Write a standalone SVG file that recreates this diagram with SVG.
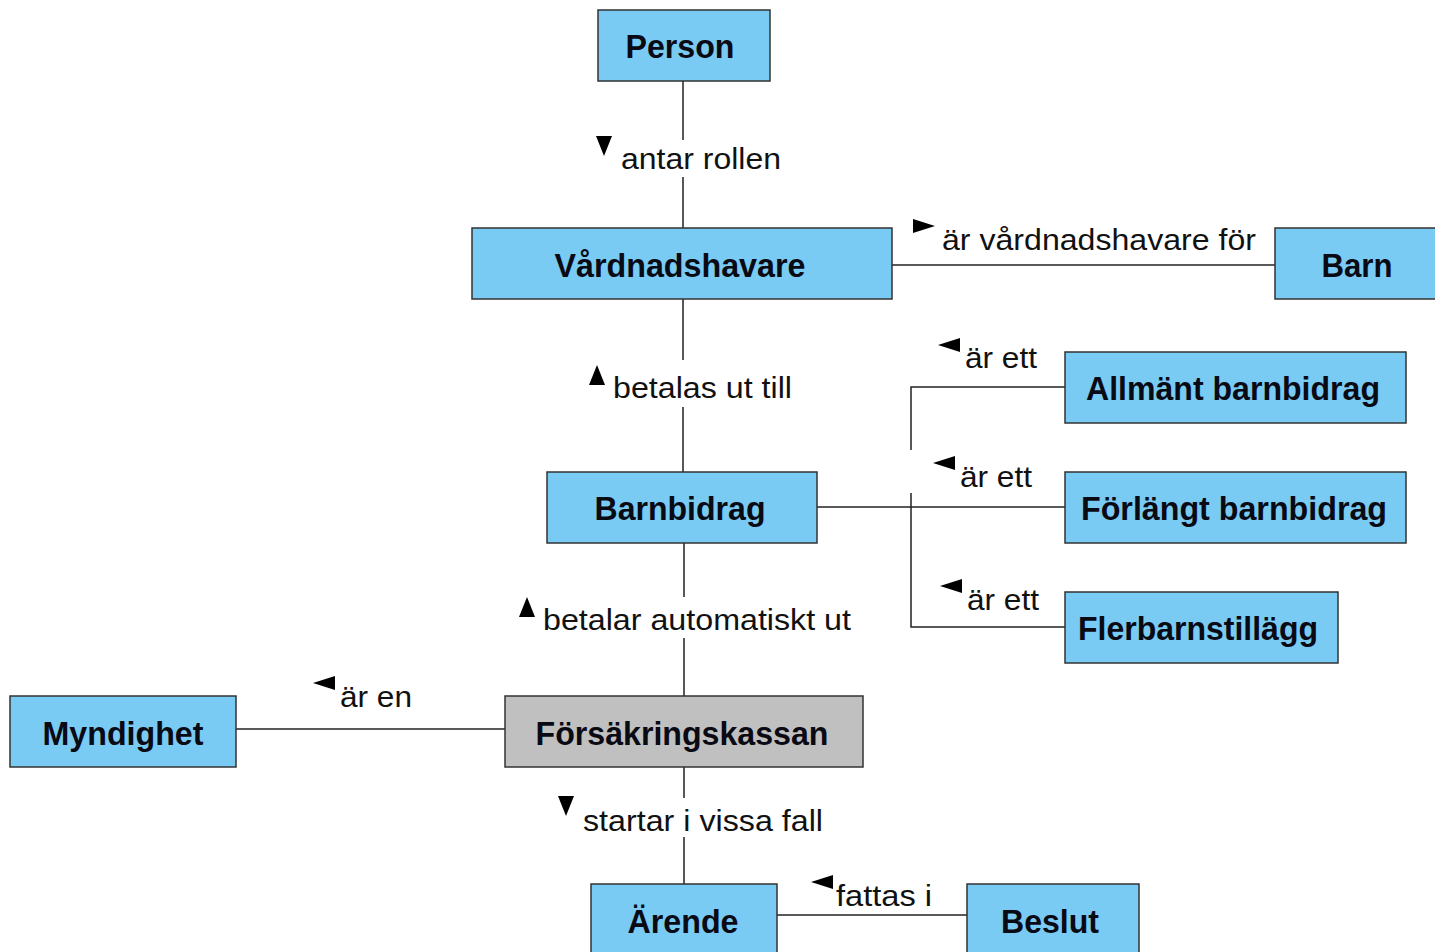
<svg xmlns="http://www.w3.org/2000/svg" xmlns:xlink="http://www.w3.org/1999/xlink" width="1435" height="952" viewBox="0 0 1435 952">
<style>
.box{fill:#79cbf3;stroke:#333;stroke-width:1.5}
.gray{fill:#c0c0c0;stroke:#333;stroke-width:1.5}
.nt{font-family:"Liberation Sans",Arial,sans-serif;font-weight:bold;font-size:33px;fill:#0a0a14;text-anchor:middle}
.lt{font-family:"Liberation Sans",Arial,sans-serif;font-size:29px;fill:#111}
.ln{stroke:#222;stroke-width:1.5;fill:none}
.ar{fill:#000}
</style>
<defs>
<polygon id="aDown" points="-8,-10 8,-10 0,10"/>
<polygon id="aUp" points="-8,10 8,10 0,-10"/>
<polygon id="aLeft" points="11,-7 11,7 -11,0"/>
<polygon id="aRight" points="-11,-7 -11,7 11,0"/>
</defs>
<rect width="1435" height="952" fill="#fff"/>
<g id="connectors">
<path class="ln" d="M683,81V140M683,177V228"/>
<path class="ln" d="M892,265H1275"/>
<path class="ln" d="M683,299V360M683,407V472"/>
<path class="ln" d="M817,507H1065"/>
<path class="ln" d="M1065,387H911V450M911,493V627H1065"/>
<path class="ln" d="M684,543V597M684,638V696"/>
<path class="ln" d="M236,729H505"/>
<path class="ln" d="M684,767V798M684,837V884"/>
<path class="ln" d="M777,915H967"/>
</g>
<g id="labels">
<use href="#aDown" class="ar" x="604" y="146"/>
<text class="lt" x="621" y="169" textLength="160" lengthAdjust="spacingAndGlyphs">antar rollen</text>
<use href="#aRight" class="ar" x="924" y="226"/>
<text class="lt" x="942" y="250" textLength="314" lengthAdjust="spacingAndGlyphs">är vårdnadshavare för</text>
<use href="#aUp" class="ar" x="597" y="375"/>
<text class="lt" x="613" y="398" textLength="179" lengthAdjust="spacingAndGlyphs">betalas ut till</text>
<use href="#aLeft" class="ar" x="949" y="345"/>
<text class="lt" x="965" y="368" textLength="72" lengthAdjust="spacingAndGlyphs">är ett</text>
<use href="#aLeft" class="ar" x="944" y="463"/>
<text class="lt" x="960" y="487" textLength="72" lengthAdjust="spacingAndGlyphs">är ett</text>
<use href="#aLeft" class="ar" x="951" y="586"/>
<text class="lt" x="967" y="610" textLength="72" lengthAdjust="spacingAndGlyphs">är ett</text>
<use href="#aUp" class="ar" x="527" y="607"/>
<text class="lt" x="543" y="630" textLength="308" lengthAdjust="spacingAndGlyphs">betalar automatiskt ut</text>
<use href="#aLeft" class="ar" x="324" y="683"/>
<text class="lt" x="340" y="707" textLength="72" lengthAdjust="spacingAndGlyphs">är en</text>
<use href="#aDown" class="ar" x="566" y="806"/>
<text class="lt" x="583" y="831" textLength="240" lengthAdjust="spacingAndGlyphs">startar i vissa fall</text>
<use href="#aLeft" class="ar" x="822" y="882"/>
<text class="lt" x="836" y="906" textLength="96" lengthAdjust="spacingAndGlyphs">fattas i</text>
</g>
<g id="person"><rect class="box" x="598" y="10" width="172" height="71"/><text class="nt" x="680" y="58" textLength="109" lengthAdjust="spacingAndGlyphs">Person</text></g>
<g id="vardnadshavare"><rect class="box" x="472" y="228" width="420" height="71"/><text class="nt" x="680" y="277" textLength="251" lengthAdjust="spacingAndGlyphs">Vårdnadshavare</text></g>
<g id="barn"><rect class="box" x="1275" y="228" width="162" height="71"/><text class="nt" x="1357" y="277" textLength="71" lengthAdjust="spacingAndGlyphs">Barn</text></g>
<g id="allmant"><rect class="box" x="1065" y="352" width="341" height="71"/><text class="nt" x="1233" y="400" textLength="294" lengthAdjust="spacingAndGlyphs">Allmänt barnbidrag</text></g>
<g id="barnbidrag"><rect class="box" x="547" y="472" width="270" height="71"/><text class="nt" x="680" y="520" textLength="171" lengthAdjust="spacingAndGlyphs">Barnbidrag</text></g>
<g id="forlangt"><rect class="box" x="1065" y="472" width="341" height="71"/><text class="nt" x="1234" y="520" textLength="306" lengthAdjust="spacingAndGlyphs">Förlängt barnbidrag</text></g>
<g id="flerbarn"><rect class="box" x="1065" y="592" width="273" height="71"/><text class="nt" x="1198" y="640" textLength="240" lengthAdjust="spacingAndGlyphs">Flerbarnstillägg</text></g>
<g id="myndighet"><rect class="box" x="10" y="696" width="226" height="71"/><text class="nt" x="123" y="745" textLength="161" lengthAdjust="spacingAndGlyphs">Myndighet</text></g>
<g id="forsakringskassan"><rect class="gray" x="505" y="696" width="358" height="71"/><text class="nt" x="682" y="745" textLength="293" lengthAdjust="spacingAndGlyphs">Försäkringskassan</text></g>
<g id="arende"><rect class="box" x="591" y="884" width="186" height="80"/><text class="nt" x="683" y="933" textLength="111" lengthAdjust="spacingAndGlyphs">Ärende</text></g>
<g id="beslut"><rect class="box" x="967" y="884" width="172" height="80"/><text class="nt" x="1050" y="933" textLength="98" lengthAdjust="spacingAndGlyphs">Beslut</text></g>
</svg>
